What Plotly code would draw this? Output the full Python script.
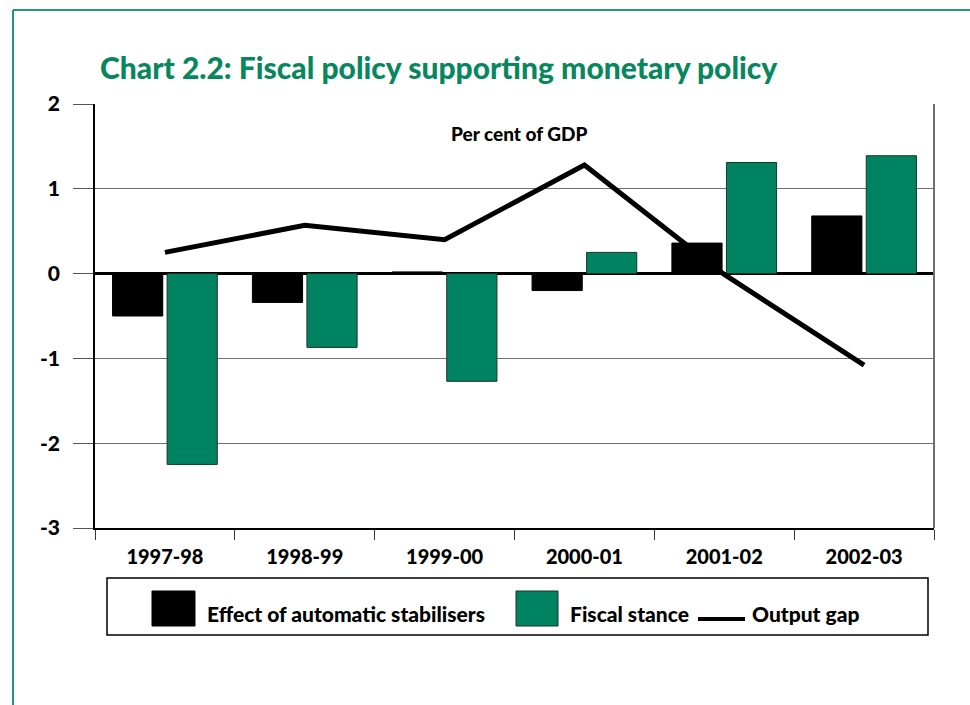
import plotly.graph_objects as go

categories = ["1997-98", "1998-99", "1999-00", "2000-01", "2001-02", "2002-03"]
stabilisers = [-0.50, -0.34, 0.02, -0.20, 0.36, 0.68]
fiscal_stance = [-2.25, -0.87, -1.27, 0.25, 1.31, 1.39]
output_gap = [0.25, 0.57, 0.40, 1.28, -0.01, -1.08]
y_ticks = [-3, -2, -1, 0, 1, 2]
y_ticktext = ["-3", "-2", "-1", "0", "1", "2"]

W, H = 970, 705
L, R, T, B = 95, 934, 104, 528
FONT = "Lato, sans-serif"
WT = 900
GREEN = "#008360"
TITLE_GREEN = "#08875f"


def px(x):
    return (x - L) / (R - L)


def py(y):
    return (B - y) / (B - T)


fig = go.Figure()
fig.add_trace(go.Bar(x=categories, y=stabilisers, name="Effect of automatic stabilisers",
                     marker=dict(color="#000000", line=dict(color="#000000", width=1))))
fig.add_trace(go.Bar(x=categories, y=fiscal_stance, name="Fiscal stance",
                     marker=dict(color=GREEN, line=dict(color="#1c3328", width=1))))
fig.add_trace(go.Scatter(x=categories, y=output_gap, name="Output gap", mode="lines",
                         line=dict(color="#000000", width=5)))

shapes = []
# page border (green, top and left)
shapes.append(dict(type="line", xref="paper", yref="paper", x0=px(13), x1=px(W + 5), y0=py(10), y1=py(10),
                   line=dict(color="#1f9a72", width=2)))
shapes.append(dict(type="line", xref="paper", yref="paper", x0=px(13), x1=px(13), y0=py(10), y1=py(H + 5),
                   line=dict(color="#1f9a72", width=2)))
# right plot border
shapes.append(dict(type="line", xref="paper", yref="paper", x0=1, x1=1, y0=0, y1=1,
                   line=dict(color="#6e6e6e", width=2)))
# legend box
shapes.append(dict(type="rect", xref="paper", yref="paper", x0=px(107), x1=px(928), y0=py(578), y1=py(635),
                   line=dict(color="#000000", width=1.5), fillcolor="rgba(0,0,0,0)"))
shapes.append(dict(type="rect", xref="paper", yref="paper", x0=px(152), x1=px(195), y0=py(591), y1=py(626),
                   line=dict(color="#000000", width=1), fillcolor="#000000"))
shapes.append(dict(type="rect", xref="paper", yref="paper", x0=px(516), x1=px(558), y0=py(591), y1=py(626),
                   line=dict(color="#1c3328", width=1), fillcolor=GREEN))
shapes.append(dict(type="line", xref="paper", yref="paper", x0=px(698), x1=px(745), y0=py(619), y1=py(619),
                   line=dict(color="#000000", width=4)))

annotations = [
    dict(text="Chart 2.2: Fiscal policy supporting monetary policy", xref="paper", yref="paper",
         x=px(98), y=py(67), xanchor="left", yanchor="middle", showarrow=False,
         font=dict(family=FONT, size=30, color=TITLE_GREEN, weight=WT)),
    dict(text="Per cent of GDP", xref="paper", yref="paper", x=px(519), y=py(133),
         xanchor="center", yanchor="middle", showarrow=False,
         font=dict(family=FONT, size=19, color="#000000", weight=WT)),
    dict(text="Effect of automatic stabilisers", xref="paper", yref="paper", x=px(205), y=py(613),
         xanchor="left", yanchor="middle", showarrow=False,
         font=dict(family=FONT, size=21, color="#000000", weight=WT)),
    dict(text="Fiscal stance", xref="paper", yref="paper", x=px(568), y=py(613),
         xanchor="left", yanchor="middle", showarrow=False,
         font=dict(family=FONT, size=21, color="#000000", weight=WT)),
    dict(text="Output gap", xref="paper", yref="paper", x=px(750), y=py(613),
         xanchor="left", yanchor="middle", showarrow=False,
         font=dict(family=FONT, size=21, color="#000000", weight=WT)),
]

fig.update_layout(
    width=W, height=H,
    margin=dict(l=L, r=W - R, t=T, b=H - B, pad=0),
    paper_bgcolor="white", plot_bgcolor="white",
    barmode="group", bargap=0.22, bargroupgap=0.08,
    showlegend=False,
    shapes=shapes, annotations=annotations,
    font=dict(family=FONT, color="#000000"),
)
fig.update_xaxes(
    type="category", showline=True, linecolor="#000000", linewidth=2,
    ticks="outside", tickson="boundaries", ticklen=10, tickcolor="#333333", tickwidth=1,
    tickfont=dict(family=FONT, size=20, color="#000000", weight=WT),
    ticklabelstandoff=10, showgrid=False,
)
fig.update_yaxes(
    range=[-3, 2], tickvals=y_ticks, ticktext=y_ticktext,
    showline=True, linecolor="#000000", linewidth=1.5,
    showgrid=True, gridcolor="#707070", gridwidth=1,
    zeroline=True, zerolinecolor="#000000", zerolinewidth=2.5,
    ticks="outside", ticklen=20, tickcolor="#555555", tickwidth=1,
    tickfont=dict(family=FONT, size=21, color="#000000", weight=WT),
    ticklabelstandoff=9,
)

fig.write_html("out.html")
